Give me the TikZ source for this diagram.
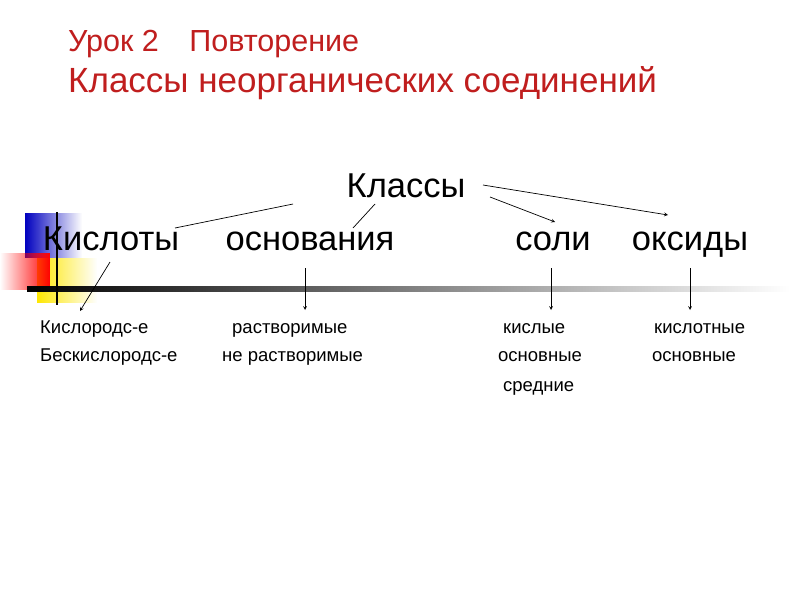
\documentclass[tikz,border=0pt]{standalone}
\usepackage{fontspec}
\setmainfont{Liberation Sans}
\usetikzlibrary{fadings}
\definecolor{ttl}{RGB}{192,30,30}
\begin{document}
\begin{tikzpicture}[x=1pt,y=-1pt,inner sep=0pt,
  big/.style={font=\fontsize{34.5}{34}\selectfont,anchor=base},
  sm/.style={font=\fontsize{18.5}{20}\selectfont,anchor=base west},
  ln/.style={line width=0.7pt},
  ar/.style={line width=0.7pt,-stealth}]
\useasboundingbox (0,0) rectangle (800,600);
\fill[white] (0,0) rectangle (800,600);
% decorations
\fill[blue!75!black,path fading=east] (25,213) rectangle (82,258);
\fill[yellow!90!orange,path fading=east] (37,258) rectangle (97,303);
\fill[red,path fading=west] (0,253) rectangle (50,290);
\shade[left color=black,right color=white] (27,286) rectangle (790,291);
\draw[line width=1.5pt] (57,212) -- (57,305);
% title
\node[anchor=base west,text=ttl,font=\fontsize{30.5}{30}\selectfont] (t1) at (68,51) {Урок 2\quad Повторение};
\node[anchor=base west,text=ttl,font=\fontsize{35}{35}\selectfont] (t2) at (68,92) {Классы неорганических соединений};
% main
\node[big] (kl) at (406,197) {Классы};
\node[big] (ki) at (111,250) {Кислоты};
\node[big] (os) at (310,250) {основания};
\node[big] (so) at (553,250) {соли};
\node[big] (ok) at (690,250) {оксиды};
\coordinate (a1) at (293,204); \coordinate (b1) at (175,228);
\coordinate (a2) at (375,204); \coordinate (b2) at (353,228);
\draw[ln] (a1) -- (b1);
\draw[ln] (a2) -- (b2);
\coordinate (a3) at (483,185); \coordinate (b3) at (668,215);
\coordinate (a4) at (490,197); \coordinate (b4) at (555,222);
\draw[ar] (a3) -- (b3);
\draw[ar] (a4) -- (b4);
% sub
\node[sm] (s1) at (40,333) {Кислородс-е};
\node[sm] (s2) at (40,361) {Бескислородс-е};
\node[sm] (s3) at (232,333) {растворимые};
\node[sm] (s4) at (222,361) {не растворимые};
\node[sm] (s5) at (503,333) {кислые};
\node[sm] (s6) at (498,361) {основные};
\node[sm] (s7) at (503,391) {средние};
\node[sm] (s8) at (654,333) {кислотные};
\node[sm] (s9) at (652,361) {основные};
\coordinate (c1) at (110,262); \coordinate (d1) at (80,311);
\coordinate (c2) at (305,268); \coordinate (d2) at (305,310);
\coordinate (c3) at (551,268); \coordinate (d3) at (551,310);
\coordinate (c4) at (690,268); \coordinate (d4) at (690,310);
\foreach \i in {1,2,3,4} \draw[ar] (c\i) -- (d\i);
\end{tikzpicture}
\end{document}
